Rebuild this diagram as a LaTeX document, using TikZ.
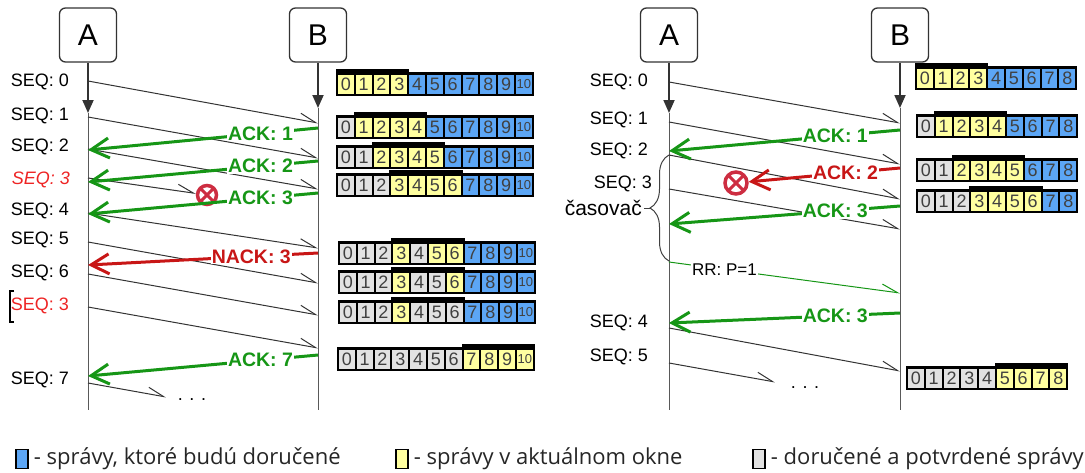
\documentclass[tikz,border=0pt]{standalone}
\usepackage{fontspec}
\setmainfont{Liberation Sans}
\newfontfamily\legendfont{Open Sans}
\usetikzlibrary{arrows.meta,positioning,decorations.pathreplacing}

\definecolor{ackgreen}{RGB}{22,150,22}
\definecolor{nackred}{RGB}{200,22,22}
\definecolor{seqred}{RGB}{238,36,36}
\definecolor{lostred}{RGB}{205,45,65}
\definecolor{cB}{RGB}{92,166,245}
\definecolor{cY}{RGB}{255,255,160}
\definecolor{cG}{RGB}{226,226,226}

\newcommand{\cw}{17.8}
\newcommand{\celltext}[1]{\ifnum#1<10 #1\else{\fontsize{13}{13}\selectfont 10}\fi}
% one row of the window: name, x, y, first and last cell of the window, colours
\newcommand{\winrow}[6]{%
  \foreach \col [count=\k from 0] in {#6}
    \fill[black] ({#2+\k*\cw},#3) rectangle ({#2+(\k+1)*\cw+2},{#3+24});
  \fill[black] ({#2+#4*\cw},{#3-3}) rectangle ({#2+(#5+1)*\cw+2},{#3+24});
  \foreach \col [count=\k from 0] in {#6}
    \node[cell, fill=c\col] (#1-\k) at ({#2+(\k+.5)*\cw+1},{#3+12}) {\celltext{\k}};
}

\tikzset{
  actor/.style={draw=black!80, line width=1.3pt, rounded corners=6pt, minimum width=57pt,
    minimum height=54pt, inner sep=0pt, font=\fontsize{30}{30}\selectfont},
  lifetop/.style={line width=1.8pt, draw=black!80, -{Triangle[length=13pt,width=11pt]}},
  life/.style={line width=1pt, draw=black!65},
  seq/.style={anchor=east, inner sep=0pt, font=\fontsize{18}{18}\selectfont},
  msg/.style={line width=1pt, draw=black!80, -{Straight Barb[harpoon,length=16pt,width=13pt]}},
  ack/.style={line width=3pt, draw=ackgreen, -{Straight Barb[length=18pt,width=20pt]}},
  acklabel/.style={fill=white, inner sep=1pt, text=ackgreen, font=\bfseries\fontsize{19.5}{19.5}\selectfont},
  lost/.style={circle, draw=lostred, line width=3.5pt, inner sep=0pt},
  lostx/.style={draw=lostred, line width=3pt, shorten <=2pt, shorten >=2pt},
  cell/.style={inner sep=0pt, minimum width=\cw pt-2pt, minimum height=19pt, text=black!75,
    font=\fontsize{18}{18}\selectfont},
  legbox/.style={draw=black, line width=1.5pt, minimum width=12pt, minimum height=19pt, inner sep=0pt},
  legtext/.style={inner sep=0pt, text=black!85, font=\legendfont\fontsize{22}{22}\selectfont}
}

\begin{document}
\begin{tikzpicture}[x=1pt, y=-1pt]
\useasboundingbox (0,0) rectangle (1085,472);

% ---- left: go-back / selective repeat with NACK
\node[actor] (LA) at (88,35) {A};
\node[actor] (LB) at (318,35) {B};
\coordinate (LAa) at (88,113);
\coordinate (LBa) at (318,108);
\draw[lifetop] (LA) -- (LAa);
\draw[life] (LAa) -- (88,410);
\draw[lifetop] (LB) -- (LBa);
\draw[life] (LBa) -- (318,410);

\foreach \y/\t [count=\i] in {82/SEQ: 0, 116/SEQ: 1, 147/SEQ: 2, 211/SEQ: 4, 240/SEQ: 5, 273/SEQ: 6, 380/SEQ: 7}
  \node[seq] (lq\i) at (69,\y) {\t};
\node[seq, text=seqred, font=\itshape\fontsize{18}{18}\selectfont] (lq8) at (70,180) {SEQ: 3};
\node[seq, text=seqred] (lq9) at (69,306) {SEQ: 3};
\draw[line width=1.5pt] (14,291) -- (10,291) -- (10,322) -- (14,322);

\foreach \n/\ya/\yb in {0/81/123, 1/117/158, 2/149/189, 4/213/248, 5/242/283, 6/274/315, 8/307/348}
  {\coordinate (lm\n) at (88,\ya); \coordinate (ln\n) at (318,\yb); \draw[msg] (lm\n) -- (ln\n);}
\node[lost, minimum size=19pt] (lx) at (207,195) {};
\draw[lostx] (lx.north west) -- (lx.south east);
\draw[lostx] (lx.north east) -- (lx.south west);
\coordinate (lm3) at (88,178);
\draw[msg] (lm3) -- (lx);
\coordinate (lm7) at (88,383);
\coordinate (ln7) at (166,397);
\draw[msg] (lm7) -- (ln7);
\node[font=\fontsize{18}{18}\selectfont] (ldots) at (192,400) {. . .};

\foreach \n/\yb/\ya in {1/128/150, 2/161/182, 3/193/214, 7/355/376}
  {\coordinate (lk\n) at (318,\yb); \coordinate (lj\n) at (88,\ya);
   \draw[ack] (lk\n) -- node[acklabel, pos=0.25] (lt\n) {ACK: \n} (lj\n);}
\coordinate (lk0) at (318,253);
\coordinate (lj0) at (88,265);
\draw[ack, draw=nackred] (lk0) -- node[acklabel, text=nackred, pos=0.29] (lt0) {NACK: 3} (lj0);

\winrow{lw1}{336}{72}{0}{3}{Y,Y,Y,Y,B,B,B,B,B,B,B}
\winrow{lw2}{336}{115}{1}{4}{G,Y,Y,Y,Y,B,B,B,B,B,B}
\winrow{lw3}{336}{145}{2}{5}{G,G,Y,Y,Y,Y,B,B,B,B,B}
\winrow{lw4}{336}{173}{3}{6}{G,G,G,Y,Y,Y,Y,B,B,B,B}
\winrow{lw5}{338}{241}{3}{6}{G,G,G,Y,G,Y,Y,B,B,B,B}
\winrow{lw6}{338}{270}{3}{6}{G,G,G,Y,G,G,Y,B,B,B,B}
\winrow{lw7}{338}{300}{3}{6}{G,G,G,Y,G,G,G,B,B,B,B}
\winrow{lw8}{337}{347}{7}{10}{G,G,G,G,G,G,G,Y,Y,Y,Y}

% ---- right: with timer and RR
\node[actor] (RA) at (669,35) {A};
\node[actor] (RB) at (900,35) {B};
\coordinate (RAa) at (669,113);
\coordinate (RBa) at (900,108);
\draw[lifetop] (RA) -- (RAa);
\draw[life] (RAa) -- (669,410);
\draw[lifetop] (RB) -- (RBa);
\draw[life] (RBa) -- (900,410);

\foreach \y/\t [count=\i] in {82/SEQ: 0, 120/SEQ: 1, 151/SEQ: 2, 323/SEQ: 4, 357/SEQ: 5}
  \node[seq] (rq\i) at (648,\y) {\t};
\node[seq] (rq6) at (652,184) {SEQ: 3};

\foreach \n/\ya/\yb in {0/82/123, 1/122/164, 2/155/199, 3/189/229, 4/328/371}
  {\coordinate (rm\n) at (669,\ya); \coordinate (rn\n) at (900,\yb); \draw[msg] (rm\n) -- (rn\n);}
\coordinate (rm5) at (669,363);
\coordinate (rn5) at (775,382);
\draw[msg] (rm5) -- (rn5);
\node[font=\fontsize{18}{18}\selectfont] (rdots) at (805,388) {. . .};

\foreach \n/\yb/\ya/\t in {1/130/151/1, 3/206/224/3, 4/313/323/3}
  {\coordinate (rk\n) at (900,\yb); \coordinate (rj\n) at (669,\ya);
   \draw[ack] (rk\n) -- node[acklabel, pos=0.28] (rt\n) {ACK: \t} (rj\n);}
\node[lost, minimum size=22pt] (rx) at (736,183) {};
\draw[lostx] (rx.north west) -- (rx.south east);
\draw[lostx] (rx.north east) -- (rx.south west);
\coordinate (rk2) at (900,168);
\draw[ack, draw=nackred] (rk2) -- node[acklabel, text=nackred, pos=0.36] (rt2) {ACK: 2} (rx);

\draw[decorate, decoration={brace, amplitude=19pt}, line width=1pt, black!75] (669,261) -- (669,155);
\node[anchor=east, inner sep=2pt, font=\fontsize{21}{21}\selectfont] (tmr) at (644,208) {časovač};
\coordinate (btip) at (650,208);
\draw[line width=1pt, black!75] (tmr) -- (btip);
\coordinate (rrA) at (669,262);
\coordinate (rrB) at (900,293);
\draw[line width=1pt, draw=ackgreen, -{Straight Barb[harpoon,length=16pt,width=13pt]}] (rrA) --
  node[fill=white, inner sep=1pt, pos=0.24, font=\fontsize{17}{17}\selectfont] (rr) {RR: P=1} (rrB);

\winrow{rw1}{915}{66}{0}{3}{Y,Y,Y,Y,B,B,B,B,B}
\winrow{rw2}{916}{114}{1}{4}{G,Y,Y,Y,Y,B,B,B,B}
\winrow{rw3}{916}{158}{2}{5}{G,G,Y,Y,Y,Y,B,B,B}
\winrow{rw4}{916}{189}{3}{6}{G,G,G,Y,Y,Y,Y,B,B}
\winrow{rw5}{906}{366}{5}{8}{G,G,G,G,G,Y,Y,Y,Y}

% ---- legend
\node[legbox, fill=cB] (kB) at (22,459) {};
\node[legtext, right=5pt of kB] (tB) {- správy, ktoré budú doručené};
\node[legbox, fill=cY] (kY) at (402,459) {};
\node[legtext, right=5pt of kY] (tY) {- správy v aktuálnom okne};
\node[legbox, fill=cG] (kG) at (759,459) {};
\node[legtext, right=5pt of kG] (tG) {- doručené a potvrdené správy};
\end{tikzpicture}
\end{document}
